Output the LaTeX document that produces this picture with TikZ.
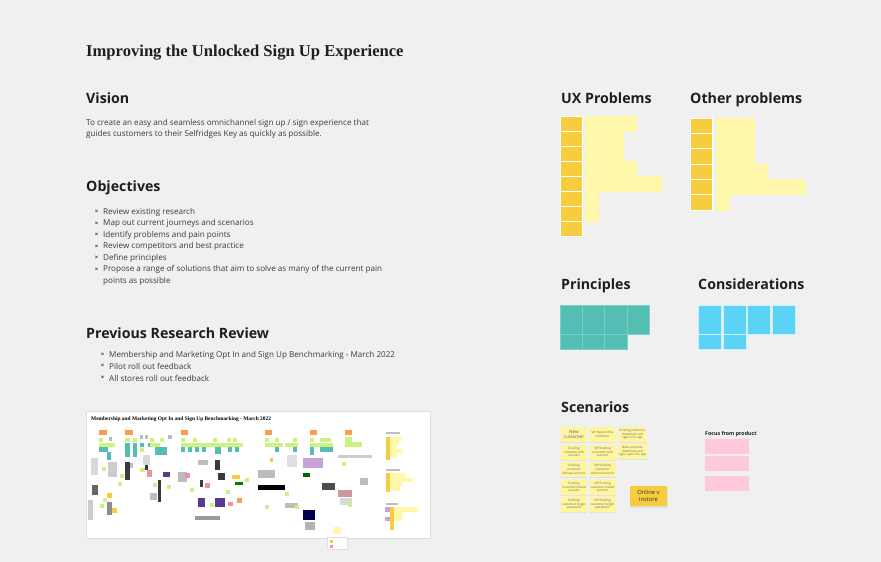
\documentclass[tikz,border=0pt]{standalone}
\usepackage{fontspec}
\setmainfont{Open Sans}
\newfontfamily\slabfont{Liberation Serif}
\usetikzlibrary{positioning,shadows}
\definecolor{canvas}{HTML}{F0F0F0}
\definecolor{inkdark}{HTML}{1E1E1E}
\definecolor{inkbody}{HTML}{3A3A3A}
\definecolor{stickydark}{HTML}{F7CD3F}
\definecolor{stickylight}{HTML}{FFF7AA}
\definecolor{stickyline}{HTML}{FCF3A6}
\definecolor{principle}{HTML}{55BEB4}
\definecolor{principleline}{HTML}{7CCDC5}
\definecolor{consider}{HTML}{5BD3F6}
\definecolor{scenario}{HTML}{FFF59D}
\definecolor{focus}{HTML}{FFC8DC}
\definecolor{thorange}{HTML}{FF9B4E}
\definecolor{thlime}{HTML}{CDF27F}
\definecolor{thteal}{HTML}{55BEB4}
\definecolor{thgray}{HTML}{BDBDBD}
\definecolor{thdark}{HTML}{3A3A3A}
\definecolor{thpink}{HTML}{F28FA0}
\definecolor{thpurple}{HTML}{5A3A8A}
\definecolor{thlilac}{HTML}{C9A0DC}

\begin{document}
\begin{tikzpicture}[x=1pt,y=-1pt,
  titletext/.style={anchor=base west,inner sep=0,text=inkdark,
    font=\slabfont\bfseries\fontsize{16.6}{19}\selectfont},
  heading/.style={anchor=base west,inner sep=0,text=inkdark,
    font=\bfseries\fontsize{14.2}{16}\selectfont},
  bodytext/.style={anchor=base west,inner sep=0,text=inkbody,align=left,
    font=\fontsize{8.1}{11}\selectfont},
  bulletitem/.style={bodytext,label={[inner sep=0,text=inkbody,
    font=\bfseries\fontsize{6}{6}\selectfont,xshift=-4.5pt,yshift=-0.3pt]left:×}},
  stickycell/.style={draw=#1,line width=0.4pt},
  scenariobox/.style={fill=scenario,draw=none,inner sep=0.5pt,
    minimum width=26pt,minimum height=15pt,align=center,text=black!60,
    font=\fontsize{3.1}{3.7}\selectfont,
    drop shadow={opacity=0.12,shadow xshift=0.4pt,shadow yshift=-1pt}},
]
\fill[canvas] (0,0) rectangle (881,562);
\useasboundingbox (0,0) rectangle (881,562);

% left column
\node[titletext] (title) at (86,56) {Improving the Unlocked Sign Up Experience};

\node[heading] (vision) at (86,103) {Vision};
\node[bodytext] (visiontext) at (86,136) {To create an easy and seamless omnichannel sign up / sign experience that\\
guides customers to their Selfridges Key as quickly as possible.};

\node[heading] (objectives) at (86,191) {Objectives};
\foreach \txt [count=\i] in {Review existing research,
    Map out current journeys and scenarios,
    Identify problems and pain points,
    Review competitors and best practice,
    Define principles,
    Propose a range of solutions that aim to solve as many of the current pain}
  \node[bulletitem] (objective\i) at (103,202.5+11.5*\i) {\txt};
\node[bodytext] (objective6b) at (103,283) {points as possible};

\node[heading] (research) at (86,338) {Previous Research Review};
\foreach \txt [count=\i] in {Membership and Marketing Opt In and Sign Up Benchmarking - March 2022,
    Pilot roll out feedback,
    All stores roll out feedback}
  \node[bulletitem] (research\i) at (109,345+12*\i) {\txt};

% benchmarking board thumbnail
\draw[fill=white,draw=black!13,line width=1pt] (86,411) rectangle (430,538);
\node[anchor=base west,inner sep=0,font=\slabfont\bfseries\fontsize{5.4}{6}\selectfont]
  (boardtitle) at (91,420.5) {Membership and Marketing Opt In and Sign Up Benchmarking - March 2022};
\foreach \xa/\ya/\xb/\yb/\col in {
  99/430/107/435/thorange, 125/430/133/435/thorange, 181/430/188/435/thorange,
  265/430/272/435/thorange, 310/430/317/435/thorange, 345/430/352/435/thorange,
  99/438/103/442/thlime, 99/443/115/447/thlime, 99/447/108/452/thteal,
  107/452/111/460/thteal, 109/437/112/441/thgray,
  125/438/130/442/thlime, 133/438/137/442/thlime, 140/435/143/439/thgray,
  145/435/148/439/thgray, 150/438/154/442/thlime, 160/438/164/442/thlime,
  168/435/172/439/thgray, 125/443/130/457/thteal, 133/443/137/457/thteal,
  140/443/144/447/thteal, 148/443/152/447/thteal, 155/447/163/455/thteal,
  163/447/167/455/thteal, 150/443/160/447/thlime, 140/448/144/452/thlime,
  181/438/185/442/thlime, 193/438/197/442/thlime, 213/438/217/442/thlime,
  227/438/231/442/thlime, 233/438/237/442/thlime, 181/443/213/447/thlime,
  213/443/228/447/thlime, 228/443/243/447/thlime, 181/447/185/452/thteal,
  188/447/192/452/thteal, 195/447/199/452/thteal, 202/447/206/452/thteal,
  215/447/221/454/thteal, 228/447/232/452/thteal, 235/447/239/452/thteal,
  265/438/269/442/thlime, 275/438/279/442/thlime, 293/438/297/442/thlime,
  265/443/283/447/thlime, 285/443/298/447/thlime, 275/447/279/452/thteal,
  293/447/297/452/thteal,
  310/438/314/442/thlime, 320/438/331/442/thlime, 310/443/318/447/thlime,
  318/443/333/447/thlime, 310/447/314/455/thteal, 320/447/333/452/thteal,
  345/437/352/442/thlime, 345/442/362/447/thlime,
  386/432/400/433.5/thgray, 386/437/390/460/stickydark, 390/437/402/441/stickylight,
  390/441/399/445/stickylight, 390/445/396/449/stickylight, 390/449/402/453/stickylight,
  390/453/397/457/stickylight,
  386/469/400/470.5/thgray, 386/473/390/492/stickydark, 390/473/405/478/stickylight,
  390/478/413/482/stickylight, 390/482/402/487/stickylight, 390/487/400/491/stickylight,
  386/503/398/504.5/thgray, 385/507/390/512/thlilac, 385/517/390/521/thlilac,
  390/507/394/530/stickydark, 394/507/418/512/stickylight, 394/512/403/517/stickylight,
  394/517/402/521/stickylight,
  91/458/98/475/black!15, 102/467/106/471/thlime, 108/462/117/477/black!20,
  125/462/130/480/thdark, 130/463/133/468/thgray, 143/455/150/465/black!15,
  145/465/148/470/thdark, 147/470/152/477/thpink, 140/468/145/472/thlime,
  158/480/161/502/thdark, 163/472/170/477/thpurple, 150/493/157/500/thgray,
  92/485/98/495/black!60, 107/493/112/498/stickydark, 112/508/117/513/stickydark,
  88/500/93/520/black!20, 107/502/112/515/black!45, 178/472/187/482/thgray,
  185/473/190/478/thpink, 198/460/208/465/thgray, 215/460/220/470/thdark,
  218/473/225/480/thdark, 205/483/210/488/thpink, 200/480/203/487/thdark,
  232/475/240/479/stickydark, 235/482/243/485/green!50!black, 198/498/205/507/thpurple,
  215/498/225/507/thpurple, 228/502/233/506/thpink, 195/516/220/520/black!40,
  237/498/242/503/thorange, 258/485/285/490/black, 258/470/275/478/thgray,
  270/458/273/462/stickydark, 287/455/297/467/black!12, 303/458/323/468/thlilac,
  303/473/310/477/green!40!black, 322/483/335/490/black!70, 285/503/298/508/thgray,
  303/510/315/520/blue!30!black, 305/522/315/530/black!30, 338/455/372/458/black!20,
  360/478/368/485/thgray, 338/490/352/497/red!50!black!40, 340/498/352/505/black!15,
  118/482/122/486/thlime, 103/498/107/502/thlime, 100/504/104/508/thlime,
  153/483/157/487/thlime, 167/485/171/489/thlime, 210/503/214/507/thlime,
  226/490/230/494/thlime, 265/505/269/509/thlime, 285/492/289/496/thlime,
  295/505/299/509/thlime, 342/462/346/466/thlime, 348/503/352/507/thlime,
  120/474/124/478/thlime, 190/488/194/492/thlime, 245/478/249/482/thlime,
  333/527/341/534/stickylight, 327/537/347/549/white}
  \fill[\col] (\xa,\ya) rectangle (\xb,\yb);
\draw[black!12,line width=0.4pt] (327,537) rectangle (347,549);
\fill[stickydark] (330,540) rectangle (333,543);
\fill[thpink] (330,545) rectangle (333,548);

% UX problems
\node[heading] (uxproblems) at (561,103) {UX Problems};
\foreach \n [count=\r from 0] in {4,3,3,4,6,1,1,0} {
  \filldraw[fill=stickydark,draw=white,line width=0.6pt]
    (560,116+15*\r) rectangle ++(22,15);
  \ifnum\n>0
    \foreach \c in {1,...,\n}
      \filldraw[fill=stickylight,stickycell=stickyline]
        (585+12.7*\c-12.7,116+15*\r) rectangle ++(12.7,15);
  \fi
}

% other problems
\node[heading] (otherproblems) at (690,103) {Other problems};
\foreach \n [count=\r from 0] in {3,3,3,4,7,1} {
  \filldraw[fill=stickydark,draw=white,line width=0.6pt]
    (690,118+15.3*\r) rectangle ++(22,15.3);
  \foreach \c in {1,...,\n}
    \filldraw[fill=stickylight,stickycell=stickyline]
      (716+12.7*\c-12.7,118+15.3*\r) rectangle ++(12.7,15.3);
}

% principles
\node[heading] (principles) at (561,289) {Principles};
\foreach \c in {0,...,3}
  \filldraw[fill=principle,stickycell=principleline] (560+22.3*\c,305) rectangle ++(22.3,29);
\foreach \c in {0,...,2}
  \filldraw[fill=principle,stickycell=principleline] (560+22.3*\c,334) rectangle ++(22.3,15);

% considerations
\node[heading] (considerations) at (698,289) {Considerations};
\foreach \xa in {698,723,747,772}
  \filldraw[fill=consider,draw=white!70!consider,line width=0.6pt] (\xa,305) rectangle ++(23,29);
\foreach \xa in {698,723}
  \filldraw[fill=consider,draw=white!70!consider,line width=0.6pt] (\xa,334) rectangle ++(23,15);

% scenarios
\node[heading] (scenarios) at (561,412) {Scenarios};
\node[scenariobox,font=\fontsize{4.6}{5.4}\selectfont] (scenA0) at (574,434.5) {New\\customer};
\foreach \txt [count=\i] in {Existing\\customer with\\account,
    Existing\\customer\\without account,
    Existing\\customer locked\\account,
    Existing\\customer forgot\\password}
  \node[scenariobox] (scenA\i) at (574,434.5+17.5*\i) {\txt};
\foreach \txt [count=\i from 0] in {VIP New online\\customer,
    VIP Existing\\customer with\\account,
    VIP Existing\\customer\\without account,
    VIP Existing\\customer locked\\account,
    VIP Existing\\customer forgot\\password}
  \node[scenariobox] (scenB\i) at (602.5,434.5+17.5*\i) {\txt};
\node[scenariobox] (scenC0) at (632.5,434.5) {Existing customer\\download and\\signs into app};
\node[scenariobox] (scenC1) at (632.5,451.5) {New customer\\download and\\signs up to the app};
\node[fill=stickydark,inner sep=0,minimum width=37pt,minimum height=20pt,align=center,
  text=black!80,font=\fontsize{5.8}{7.2}\selectfont,
  drop shadow={opacity=0.15,shadow xshift=0.6pt,shadow yshift=-1.5pt}]
  (onlineinstore) at (648.5,496) {Online v\\instore};

% focus from product
\node[anchor=base west,inner sep=0,text=inkdark,font=\bfseries\fontsize{5.3}{6}\selectfont]
  (focus) at (705,435) {Focus from product};
\foreach \ya [count=\i] in {439,456,476}
  \fill[focus] (705,\ya) rectangle ++(44,15);
\end{tikzpicture}
\end{document}
